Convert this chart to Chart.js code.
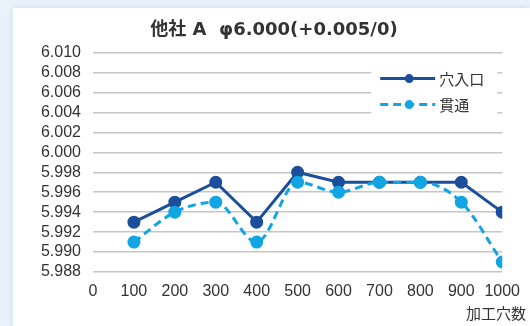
<!DOCTYPE html>
<html>
<head>
<meta charset="utf-8">
<script src="https://cdn.jsdelivr.net/npm/chart.js@4/dist/chart.umd.min.js"></script>
<style>
  html, body { margin: 0; padding: 0; }
  body { width: 530px; height: 326px; background: #e9f2fa; position: relative; overflow: hidden; }
  #panel { position: absolute; left: 13px; top: 8px; right: 0; bottom: 0; background: #ffffff;
           box-shadow: 0 0 6px rgba(40, 90, 150, 0.15); }
  #chart { position: absolute; left: 0; top: 0; }
</style>
</head>
<body>
<div id="panel"></div>
<canvas id="chart" width="530" height="326"></canvas>
<script>
// Hole diameter measured every 100 holes (mm)
const holeCounts = [100, 200, 300, 400, 500, 600, 700, 800, 900, 1000];
const entryDiameter = [5.993, 5.995, 5.997, 5.993, 5.998, 5.997, 5.997, 5.997, 5.997, 5.994];
const throughDiameter = [5.991, 5.994, 5.995, 5.991, 5.997, 5.996, 5.997, 5.997, 5.995, 5.989];
const seriesNames = ['穴入口', '貫通'];
const xTickValues = [0, 100, 200, 300, 400, 500, 600, 700, 800, 900, 1000];
const yTickValues = [5.988, 5.990, 5.992, 5.994, 5.996, 5.998, 6.000, 6.002, 6.004, 6.006, 6.008, 6.010];
const chartTitle = '他社 A  φ6.000(+0.005/0)';
const xAxisCaption = '加工穴数';

const DARK = '#1b4f9c';
const LIGHT = '#12a5e3';
const TEXT = '#333333';
const LABEL_FONT = "'Liberation Sans', Arial, sans-serif";
const CJK_FONT = "'Noto Sans CJK JP', 'Liberation Sans', sans-serif";
const PAD_LEFT = 38;

const toPoints = (values) => values.map((v, i) => ({ x: holeCounts[i], y: v }));

// Boxed legend inside the plot, plus the x-axis caption at the lower right
const insideLegend = {
  id: 'insideLegend',
  afterDraw(chart) {
    const { ctx, chartArea } = chart;
    const boxLeft = chartArea.right - 131;
    const boxTop = chartArea.top + 9;
    ctx.save();
    ctx.fillStyle = '#ffffff';
    ctx.fillRect(boxLeft, boxTop, 126, 56);
    chart.data.datasets.forEach((ds, i) => {
      const y = boxTop + 17 + i * 26;
      ctx.strokeStyle = ds.borderColor;
      ctx.lineWidth = ds.borderWidth;
      ctx.setLineDash(ds.borderDash || []);
      ctx.beginPath();
      ctx.moveTo(boxLeft + 9, y);
      ctx.lineTo(boxLeft + 64, y);
      ctx.stroke();
      ctx.setLineDash([]);
      ctx.fillStyle = ds.pointBackgroundColor;
      ctx.beginPath();
      ctx.arc(boxLeft + 38, y, 4.5, 0, Math.PI * 2);
      ctx.fill();
      ctx.fillStyle = TEXT;
      ctx.font = '15px ' + CJK_FONT;
      ctx.textAlign = 'left';
      ctx.textBaseline = 'middle';
      ctx.fillText(ds.label, boxLeft + 68, y + 1);
    });
    ctx.font = '15px ' + CJK_FONT;
    ctx.fillStyle = TEXT;
    ctx.textAlign = 'right';
    ctx.textBaseline = 'middle';
    ctx.fillText(xAxisCaption, chart.width - 4, 313);
    ctx.restore();
  }
};

new Chart(document.getElementById('chart'), {
  type: 'line',
  data: {
    datasets: [
      {
        label: seriesNames[0],
        data: toPoints(entryDiameter),
        borderColor: DARK,
        backgroundColor: DARK,
        pointBackgroundColor: DARK,
        pointBorderColor: DARK,
        borderWidth: 3,
        pointRadius: 5,
        tension: 0,
        order: 2
      },
      {
        label: seriesNames[1],
        data: toPoints(throughDiameter),
        borderColor: LIGHT,
        backgroundColor: LIGHT,
        pointBackgroundColor: LIGHT,
        pointBorderColor: LIGHT,
        borderWidth: 3,
        borderDash: [8, 5],
        pointRadius: 5,
        cubicInterpolationMode: 'monotone',
        order: 1
      }
    ]
  },
  options: {
    responsive: false,
    animation: false,
    devicePixelRatio: 1,
    layout: { padding: { left: PAD_LEFT, right: 20, top: 0, bottom: 24 } },
    plugins: {
      legend: { display: false },
      tooltip: { enabled: false },
      title: {
        display: true,
        text: chartTitle,
        color: TEXT,
        font: { family: "'DejaVu Sans', 'Noto Sans CJK JP', sans-serif", size: 18, weight: 'bold' },
        padding: { top: 20, bottom: 11 }
      }
    },
    scales: {
      x: {
        type: 'linear',
        min: 0,
        max: 1000,
        afterBuildTicks: (scale) => { scale.ticks = xTickValues.map(v => ({ value: v })); },
        afterFit: (scale) => { scale.height = 30; },
        grid: { display: false, drawTicks: false },
        border: { display: false },
        ticks: {
          color: TEXT,
          font: { family: LABEL_FONT, size: 16 },
          padding: 10,
          maxRotation: 0,
          autoSkip: false,
          callback: (v) => String(v)
        }
      },
      y: {
        min: 5.988,
        max: 6.010,
        afterBuildTicks: (scale) => { scale.ticks = yTickValues.map(v => ({ value: v })); },
        afterFit: (scale) => { scale.width = 93 - PAD_LEFT; },
        grid: { color: '#c6c6c6', lineWidth: 1.5, drawTicks: false },
        border: { display: false },
        ticks: {
          color: TEXT,
          font: { family: LABEL_FONT, size: 16 },
          padding: 12,
          autoSkip: false,
          callback: (v) => Number(v).toFixed(3)
        }
      }
    }
  },
  plugins: [insideLegend]
});
</script>
</body>
</html>
